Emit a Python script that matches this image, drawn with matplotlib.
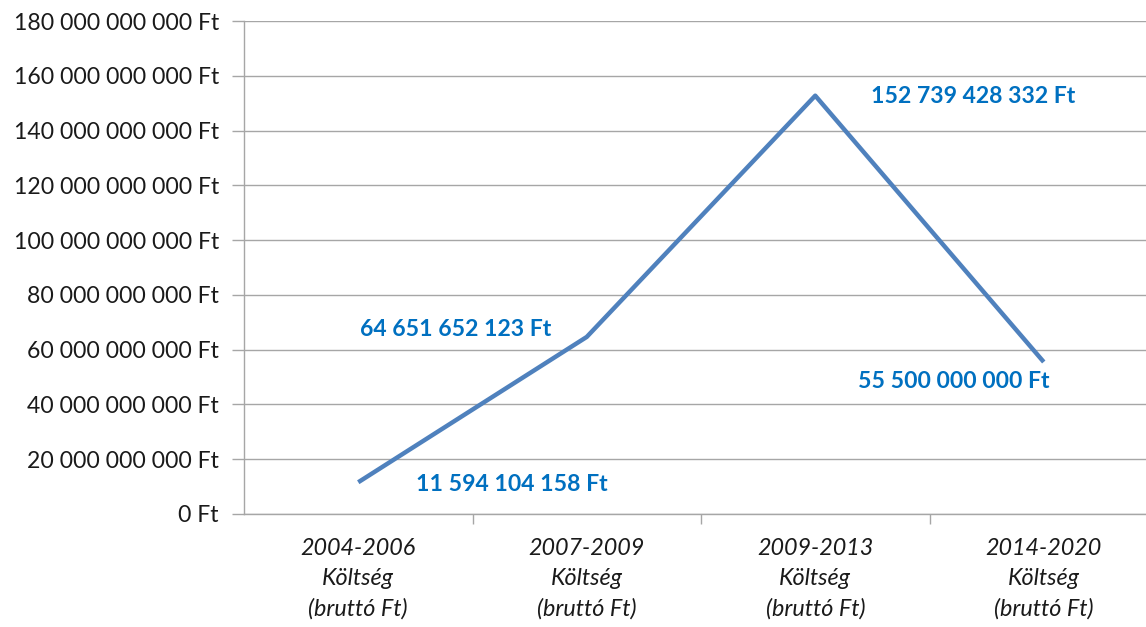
import matplotlib
matplotlib.use("Agg")
import matplotlib.pyplot as plt
from matplotlib.ticker import FuncFormatter, MultipleLocator, FixedLocator

categories = ["2004-2006\nKöltség\n(bruttó Ft)", "2007-2009\nKöltség\n(bruttó Ft)",
              "2009-2013\nKöltség\n(bruttó Ft)", "2014-2020\nKöltség\n(bruttó Ft)"]
values = [11594104158, 64651652123, 152739428332, 55500000000]
value_labels = ["11 594 104 158 Ft", "64 651 652 123 Ft", "152 739 428 332 Ft", "55 500 000 000 Ft"]

plt.rcParams['font.family'] = ['Lato', 'DejaVu Sans']

W, H = 1146, 627
fig = plt.figure(figsize=(W / 100, H / 100), dpi=100)
left, right, top, bottom = 244, 1158, 21, 514
ax = fig.add_axes([left / W, 1 - bottom / H, (right - left) / W, (bottom - top) / H])

x = list(range(len(values)))
ax.plot(x, values, color="#4F81BD", linewidth=3.2, solid_capstyle="butt", zorder=3)

ax.set_xlim(-0.5, len(values) - 0.5)
ax.set_ylim(0, 180e9)
ax.yaxis.set_major_locator(MultipleLocator(20e9))

def fmt(v, pos):
    s = f"{int(round(v)):,}".replace(",", " ")
    return f"{s} Ft"

ax.yaxis.set_major_formatter(FuncFormatter(fmt))
ax.grid(axis="y", color="#A6A6A6", linewidth=1.0)
ax.set_axisbelow(True)

ax.set_xticks(x)
ax.set_xticklabels(categories, fontstyle="italic", fontsize=16.8, color="#1a1a1a", linespacing=1.52)
ax.tick_params(axis="x", length=0, pad=17.5)
ax.xaxis.set_minor_locator(FixedLocator([0.5, 1.5, 2.5]))
ax.tick_params(axis="x", which="minor", length=7, color="#A6A6A6", width=1)
ax.tick_params(axis="y", length=9, color="#A6A6A6", width=1, labelsize=16.6, labelcolor="#1a1a1a", pad=9)

for s in ["top", "right"]:
    ax.spines[s].set_visible(False)
for s in ["left", "bottom"]:
    ax.spines[s].set_color("#A6A6A6")
    ax.spines[s].set_linewidth(1.0)

offsets = [(154, -2), (-131, 7), (158, -1), (-90, -20)]
for xi, v, lab, off in zip(x, values, value_labels, offsets):
    ax.annotate(lab, (xi, v), xytext=off, textcoords="offset pixels",
                ha="center", va="center", color="#0070C0", fontweight="bold", fontsize=16.6)

fig.savefig("out.png", dpi=100)
